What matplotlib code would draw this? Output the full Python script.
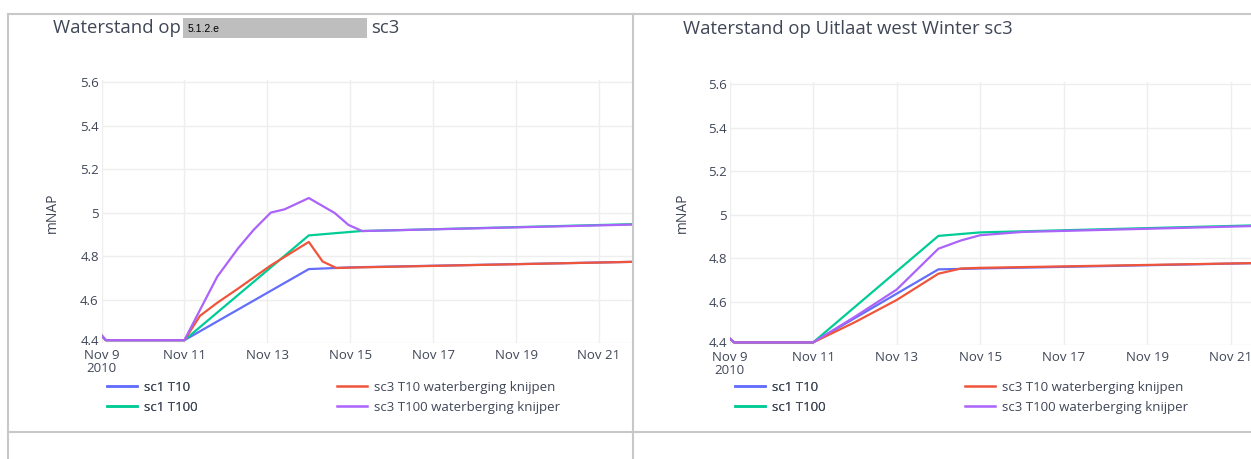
import matplotlib
matplotlib.use("Agg")
import matplotlib.pyplot as plt
import matplotlib.transforms as mtrans
import pandas as pd
from matplotlib.lines import Line2D
from matplotlib.patches import Rectangle

plt.rcParams["font.family"] = ["Open Sans", "DejaVu Sans"]

# --- data ---
series_names = ["sc1 T10", "sc1 T100", "sc3 T10 waterberging knijpen", "sc3 T100 waterberging knijper"]
series_colors = ["#636efa", "#00cc96", "#ef553b", "#ab63fa"]

tick_days = ["2010-11-09", "2010-11-11", "2010-11-13", "2010-11-15", "2010-11-17", "2010-11-19", "2010-11-21"]
tick_labels = ["Nov 9\n2010", "Nov 11", "Nov 13", "Nov 15", "Nov 17", "Nov 19", "Nov 21"]
y_ticks = [4.4, 4.6, 4.8, 5.0, 5.2, 5.4, 5.6]
y_tick_labels = ["4.4", "4.6", "4.8", "5", "5.2", "5.4", "5.6"]

# left panel (location hidden)
l_sc1_t10_t = ["2010-11-09 00:00", "2010-11-09 02:30", "2010-11-11 00:00", "2010-11-14 00:00",
               "2010-11-15 00:00", "2010-11-22 12:00"]
l_sc1_t10_v = [4.435, 4.413, 4.413, 4.740, 4.748, 4.776]
l_sc1_t100_t = ["2010-11-09 00:00", "2010-11-09 02:30", "2010-11-11 00:00", "2010-11-14 00:00",
                "2010-11-15 06:00", "2010-11-22 12:00"]
l_sc1_t100_v = [4.435, 4.413, 4.413, 4.895, 4.915, 4.950]
l_sc3_t10_t = ["2010-11-09 00:00", "2010-11-09 02:30", "2010-11-11 00:00", "2010-11-11 09:00",
               "2010-11-11 19:00", "2010-11-12 07:00", "2010-11-13 02:00", "2010-11-14 00:00",
               "2010-11-14 08:00", "2010-11-14 16:00", "2010-11-15 06:00", "2010-11-22 12:00"]
l_sc3_t10_v = [4.435, 4.413, 4.413, 4.525, 4.585, 4.650, 4.757, 4.865,
               4.775, 4.745, 4.748, 4.776]
l_sc3_t100_t = ["2010-11-09 00:00", "2010-11-09 02:30", "2010-11-11 00:00", "2010-11-11 09:00",
                "2010-11-11 19:00", "2010-11-12 07:00", "2010-11-12 16:00", "2010-11-13 02:00",
                "2010-11-13 10:00", "2010-11-14 00:00", "2010-11-14 15:00", "2010-11-14 23:00",
                "2010-11-15 07:00", "2010-11-22 12:00"]
l_sc3_t100_v = [4.435, 4.413, 4.413, 4.552, 4.705, 4.835, 4.920, 5.000,
                5.015, 5.067, 4.998, 4.943, 4.915, 4.948]

# right panel (Uitlaat west)
r_sc1_t10_t = ["2010-11-09 00:00", "2010-11-09 02:30", "2010-11-11 00:00", "2010-11-14 00:00",
               "2010-11-15 00:00", "2010-11-22 12:00"]
r_sc1_t10_v = [4.430, 4.412, 4.412, 4.748, 4.752, 4.780]
r_sc1_t100_t = ["2010-11-09 00:00", "2010-11-09 02:30", "2010-11-11 00:00", "2010-11-14 00:00",
                "2010-11-15 00:00", "2010-11-22 12:00"]
r_sc1_t100_v = [4.430, 4.412, 4.412, 4.902, 4.918, 4.955]
r_sc3_t10_t = ["2010-11-09 00:00", "2010-11-09 02:30", "2010-11-11 00:00", "2010-11-12 00:00",
               "2010-11-13 00:00", "2010-11-14 00:00", "2010-11-14 13:00", "2010-11-15 00:00",
               "2010-11-22 12:00"]
r_sc3_t10_v = [4.430, 4.412, 4.412, 4.505, 4.607, 4.728, 4.752, 4.755, 4.780]
r_sc3_t100_t = ["2010-11-09 00:00", "2010-11-09 02:30", "2010-11-11 00:00", "2010-11-12 00:00",
                "2010-11-13 00:00", "2010-11-14 00:00", "2010-11-14 13:00", "2010-11-15 00:00",
                "2010-11-16 00:00", "2010-11-22 12:00"]
r_sc3_t100_v = [4.430, 4.412, 4.412, 4.530, 4.655, 4.843, 4.881, 4.905, 4.920, 4.952]

left_data = [(l_sc1_t10_t, l_sc1_t10_v), (l_sc1_t100_t, l_sc1_t100_v),
             (l_sc3_t10_t, l_sc3_t10_v), (l_sc3_t100_t, l_sc3_t100_v)]
right_data = [(r_sc1_t10_t, r_sc1_t10_v), (r_sc1_t100_t, r_sc1_t100_v),
              (r_sc3_t10_t, r_sc3_t10_v), (r_sc3_t100_t, r_sc3_t100_v)]

W, H = 1251, 459
TXT = "#3f4656"
GRID = "#eeeeee"
BORDER = "#c8c8c8"

fig = plt.figure(figsize=(W / 100, H / 100), dpi=100)
fig.patch.set_facecolor("white")


def px(x, y):
    return x / W, 1 - y / H


def make_panel(x0, x1, y_top, y_bot, days_shown, data, ylab_x, leg_x, col2_x):
    ax = fig.add_axes([x0 / W, 1 - y_bot / H, (x1 - x0) / W, (y_bot - y_top) / H])
    for (t, v), c in zip(data, series_colors):
        ax.plot(pd.to_datetime(t), v, color=c, lw=1.6, solid_joinstyle="round")
    start = pd.Timestamp("2010-11-09")
    ax.set_xlim(start, start + pd.Timedelta(days=days_shown))
    ax.set_ylim(4.4, 5.61)
    ax.set_xticks(pd.to_datetime(tick_days), tick_labels)
    ax.set_yticks(y_ticks, y_tick_labels)
    ax.grid(True, color=GRID, lw=1)
    ax.set_axisbelow(True)
    for s in ax.spines.values():
        s.set_visible(False)
    ax.tick_params(length=0, labelsize=9.5, colors=TXT, pad=2)
    ax.tick_params(axis="x", pad=4)
    for lab in ax.get_xticklabels():
        lab.set_linespacing(1.05)
    # lift the lowest y label a little so it clears "Nov 9"
    lab0 = ax.get_yticklabels()[0]
    lab0.set_transform(lab0.get_transform() + mtrans.ScaledTranslation(0, 3 / 100, fig.dpi_scale_trans))
    fig.text(*px(ylab_x, 213), "mNAP", rotation=90, ha="center", va="center",
             fontsize=10, color=TXT)
    h = [Line2D([], [], color=c, lw=1.8) for c in series_colors]
    kw = dict(loc="upper left", frameon=False, fontsize=9.5, labelcolor=TXT, handlelength=2.3,
              handletextpad=0.5, labelspacing=0.5, borderaxespad=0, borderpad=0)
    leg1 = fig.legend(h[:2], series_names[:2], bbox_to_anchor=px(leg_x, 381), **kw)
    fig.legend(h[2:], series_names[2:], bbox_to_anchor=px(col2_x, 381), **kw)
    fig.add_artist(leg1)
    return ax


make_panel(101.5, 633, 80, 343, 12.82, left_data, 52, 107, 337)
make_panel(729.7, 1251, 82, 345, 12.49, right_data, 682, 735, 965)

# titles
fig.text(*px(53, 28), "Waterstand op", fontsize=13.3, color=TXT, va="center")
fig.add_artist(Rectangle(px(183, 38), 184 / W, 20 / H, transform=fig.transFigure,
                         facecolor="#bebebe", edgecolor="none"))
fig.text(*px(188, 29), "5.1.2.e", fontsize=7.5, color="black", va="center", family="Liberation Sans")
fig.text(*px(371, 28), "sc3", fontsize=13.3, color=TXT, va="center")
fig.text(*px(683, 29), "Waterstand op Uitlaat west Winter sc3", fontsize=13.3, color=TXT, va="center")

# dashboard borders
for xs, ys in [((8, W), (14, 14)), ((8, W), (432, 432)), ((8, 8), (14, H)), ((633, 633), (14, H))]:
    fig.add_artist(Line2D([x / W for x in xs], [1 - y / H for y in ys],
                          transform=fig.transFigure, color=BORDER, lw=1.5))

fig.savefig("out.png", dpi=100)
